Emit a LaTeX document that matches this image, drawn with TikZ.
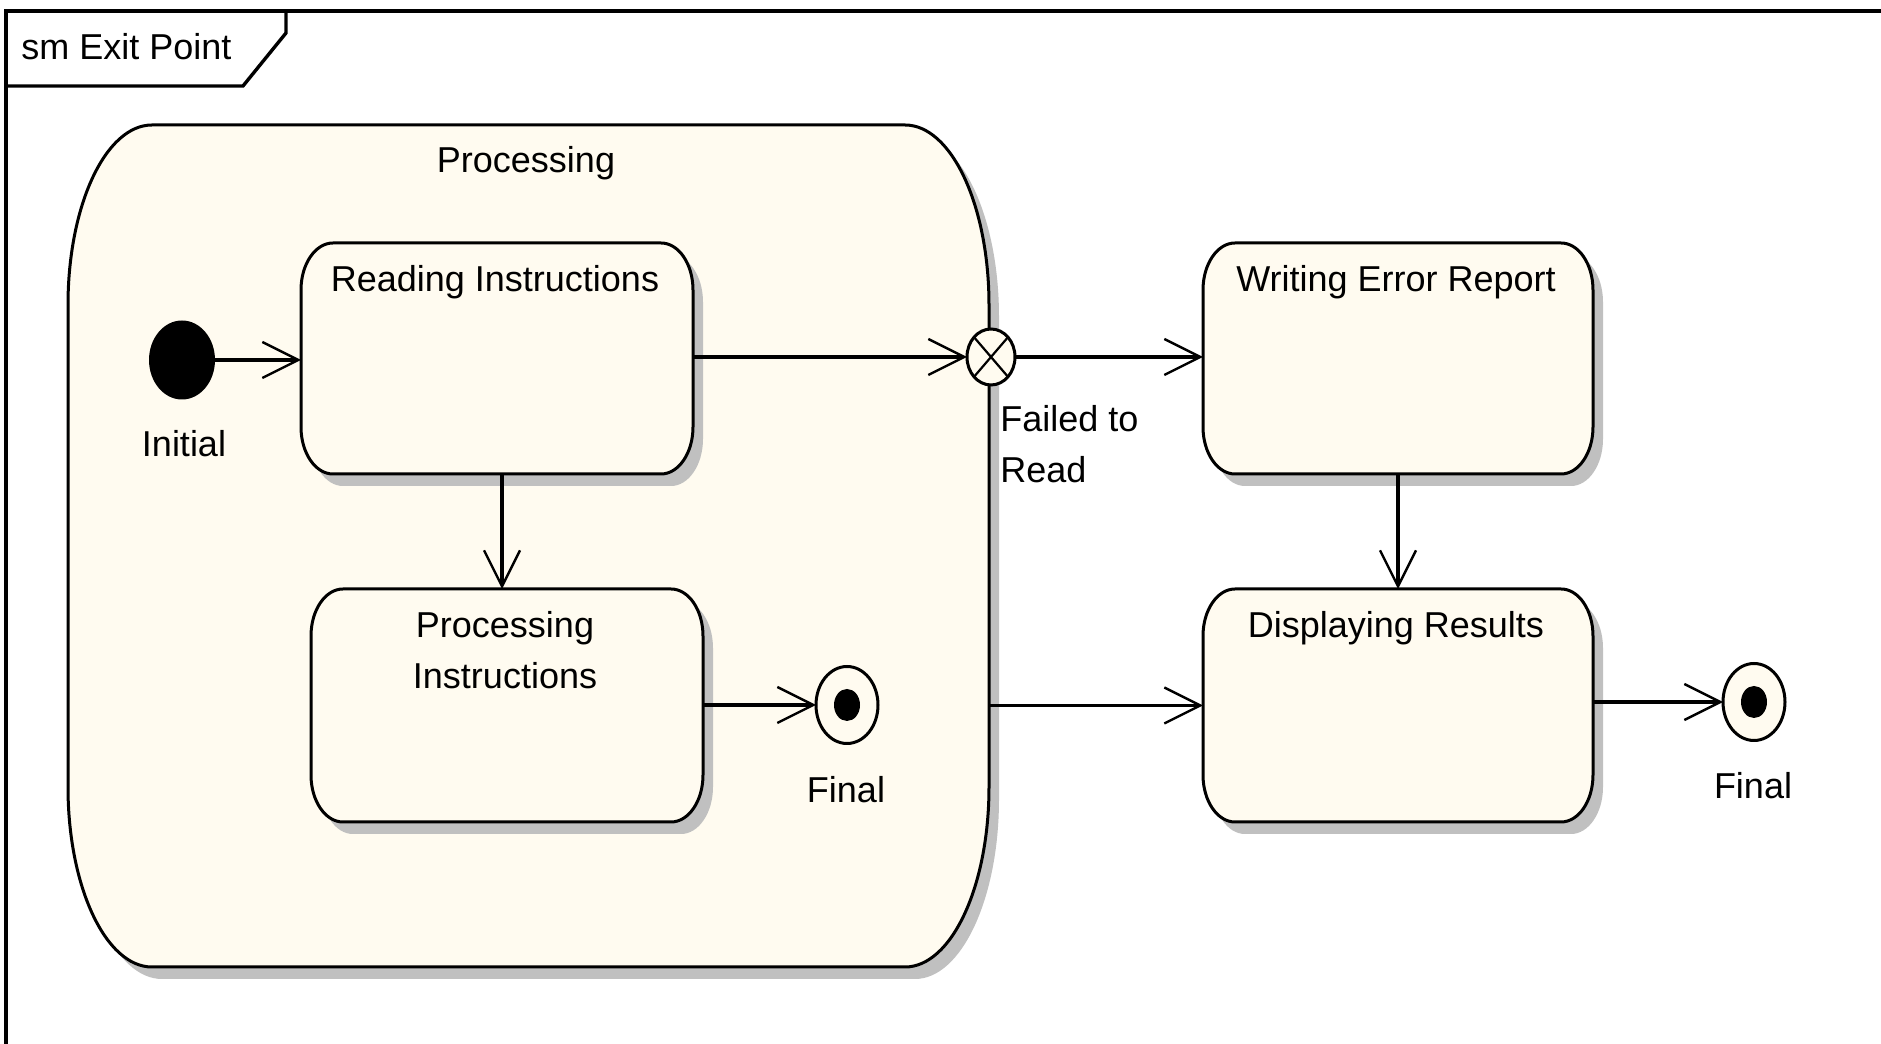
\documentclass[tikz,border=0pt]{standalone}
\usepackage{fontspec}
\setmainfont{Liberation Sans}
\usetikzlibrary{calc,arrows.meta,shapes.geometric}

\definecolor{statefill}{RGB}{255,251,240}
\definecolor{shadowgray}{RGB}{192,192,192}

% 圆角框路径: 左, 右, 上, 下, 横半径, 纵半径
\newcommand{\roundbox}[6]{(#1,#4+#6) -- (#1,#3-#6)
  arc[start angle=180,end angle=90,x radius=#5,y radius=#6] -- (#2-#5,#3)
  arc[start angle=90,end angle=0,x radius=#5,y radius=#6] -- (#2,#4+#6)
  arc[start angle=0,end angle=-90,x radius=#5,y radius=#6] -- (#1+#5,#4)
  arc[start angle=270,end angle=180,x radius=#5,y radius=#6] -- cycle}

% 状态: 名字, 左, 右, 上, 下, 横半径, 纵半径
\newcommand{\umlstate}[7]{%
  \fill[shadowgray,shift={(10,-12)}] \roundbox{#2}{#3}{#4}{#5}{#6}{#7};
  \filldraw[fill=statefill,draw=black,line width=1.5pt] \roundbox{#2}{#3}{#4}{#5}{#6}{#7};
  \node[holder,minimum width={(#3-#2)*0.5pt},minimum height={(#4-#5)*0.5pt}]
    (#1) at ({(#2+#3)/2},{(#4+#5)/2}) {};}

\tikzset{
  holder/.style={rectangle,draw=none,inner sep=0pt,outer sep=0pt},
  lbl/.style={font=\fontsize{18}{25.5}\selectfont,inner sep=0pt},
  transition/.style={line width=1.6pt,-{Straight Barb[length=18pt,width=18pt,line width=1.2pt]}},
  pseudostate/.style={ellipse,draw,line width=1.5pt,fill=statefill,
    minimum width=31pt,minimum height=38.5pt,inner sep=0pt,outer sep=0pt},
}

\begin{document}
\begin{tikzpicture}[x=0.5pt,y=0.5pt]
  % 画布
  \useasboundingbox (0,0) rectangle (1881,1044);
  \fill[white] (0,0) rectangle (1881,1044);

  % 外框与标签
  \draw[line width=1.7pt] (6,0) -- (6,1033) -- (1881,1033);
  \draw[line width=1.7pt] (6,958) -- (243,958) -- (286,1011) -- (286,1033);
  \node[lbl,anchor=base west] (title) at (21,984) {sm Exit Point};

  % 复合状态
  \umlstate{proc}{68}{989}{919}{77}{84}{180}
  \node[lbl,anchor=base] (procT) at (526,871) {Processing};

  % 子状态与右侧状态
  \umlstate{RI}{301}{693}{801}{570}{32}{47}
  \umlstate{PI}{311}{703}{455}{222}{32}{47}
  \umlstate{WE}{1203}{1593}{801}{570}{32}{47}
  \umlstate{DR}{1203}{1593}{455}{222}{32}{47}
  \node[lbl,anchor=base] (RIt) at (495,752) {Reading Instructions};
  \node[lbl,anchor=base,align=center] (PIt) at (505,355) {Processing\\Instructions};
  \node[lbl,anchor=base] (WEt) at (1396,752) {Writing Error Report};
  \node[lbl,anchor=base] (DRt) at (1396,406) {Displaying Results};

  % 初始与终止
  \node[ellipse,fill=black,minimum width=33pt,minimum height=39.5pt,inner sep=0pt,outer sep=0pt] (I) at (182,684) {};
  \node[lbl,anchor=base] (It) at (184,587) {Initial};
  \node[pseudostate] (F1) at (847,339) {};
  \fill (F1) ellipse[x radius=13,y radius=16];
  \node[lbl,anchor=base] (F1t) at (846,241) {Final};
  \node[pseudostate] (F2) at (1754,342) {};
  \fill (F2) ellipse[x radius=13,y radius=16];
  \node[lbl,anchor=base] (F2t) at (1753,245) {Final};

  % 出口点
  \node[pseudostate,minimum width=24pt,minimum height=28pt] (X) at (991,687) {};
  \draw[line width=1.1pt] (X.north west) -- (X.south east) (X.north east) -- (X.south west);
  \node[lbl,anchor=base west,align=left] (Xt) at (1000,561) {Failed to\\Read};

  % 转换
  \draw[transition] (I.east) -- (I.east -| RI.west);
  \draw[transition] (X -| RI.east) -- (X.west);
  \draw[transition] (X.east) -- (X -| WE.west);
  \coordinate (m1) at ($(RI.south)!.5!(PI.north)$);
  \draw[transition] (m1 |- RI.south) -- (m1 |- PI.north);
  \draw[transition] (WE.south) -- (DR.north);
  \draw[transition] (F1 -| PI.east) -- (F1.west);
  \draw[transition] (DR.west -| proc.east) -- (DR.west);
  \draw[transition] (F2 -| DR.east) -- (F2.west);
\end{tikzpicture}
\end{document}
